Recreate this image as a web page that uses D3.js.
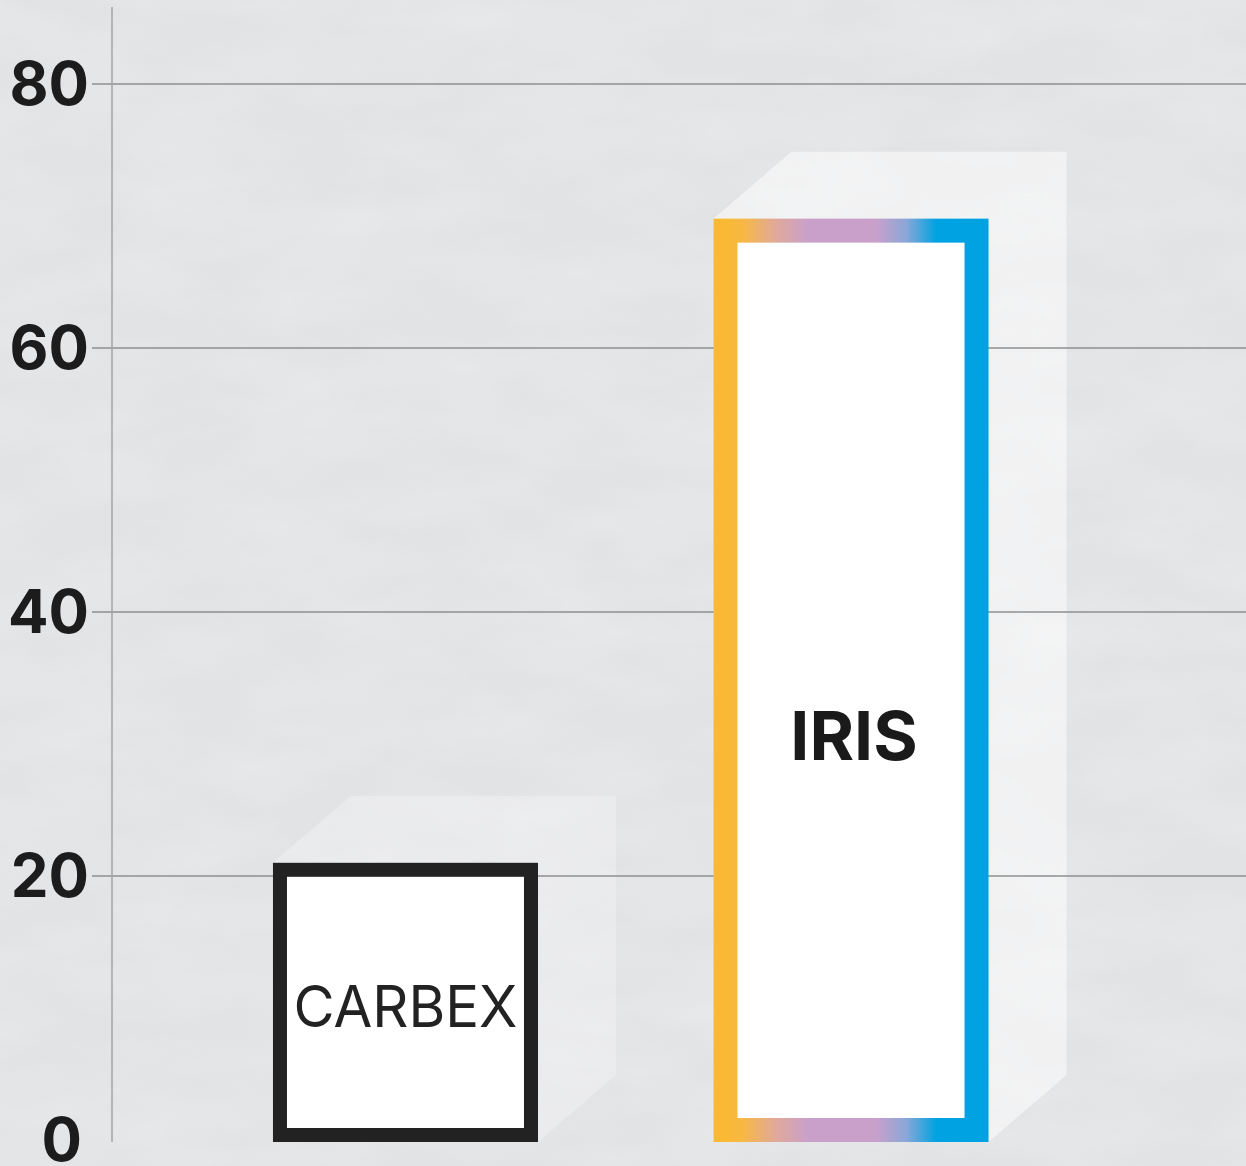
<!DOCTYPE html>
<html>
<head>
<meta charset="utf-8">
<script src="https://cdn.jsdelivr.net/npm/d3@7"></script>
<style>
  html, body { margin: 0; padding: 0; background: #e4e5e7; }
  svg { display: block; }
</style>
</head>
<body>
<svg id="chart"></svg>
<script>
// values
const categories = ['CARBEX', 'IRIS'];
const values = [21, 69.8];
const tickValues = [0, 20, 40, 60, 80];

const width = 1246;
const height = 1166;
const svg = d3.select('#chart').attr('width', width).attr('height', height);
const defs = svg.append('defs');

// soft paper background
const noise = defs.append('filter').attr('id', 'paper')
    .attr('x', 0).attr('y', 0).attr('width', '100%').attr('height', '100%');
noise.append('feTurbulence')
    .attr('type', 'fractalNoise').attr('baseFrequency', '0.008 0.02')
    .attr('numOctaves', 4).attr('seed', 7).attr('result', 'n');
noise.append('feColorMatrix').attr('in', 'n').attr('type', 'matrix')
    .attr('values', '0 0 0 0 1  0 0 0 0 1  0 0 0 0 1  0 0 0 -1.1 0.75');

svg.append('rect').attr('width', width).attr('height', height).attr('fill', '#e2e3e5');
svg.append('rect').attr('width', width).attr('height', height)
    .attr('filter', 'url(#paper)').attr('opacity', 0.3);

// iris gradient border
const grad = defs.append('linearGradient').attr('id', 'irisGrad')
    .attr('x1', '0%').attr('x2', '100%').attr('y1', 0).attr('y2', 0);
[
    [0, '#f9b934'], [0.07, '#f7b845'], [0.2, '#e0a99a'], [0.33, '#c9a0ca'],
    [0.6, '#c9a0ca'], [0.72, '#8aa7d8'], [0.84, '#00a2e1'], [1, '#00a2e1']
].forEach(function(s) {
    grad.append('stop').attr('offset', s[0]).attr('stop-color', s[1]);
});

const y = d3.scaleLinear().domain([0, 86]).range([1140, 1140 - 86 * 13.2]);
const x = d3.scaleBand().domain(categories)
    .range([112, 1144.5]).paddingInner(0.4366).paddingOuter(0.377);

const strokes = [14, 24];
const strokeColors = ['#222222', 'url(#irisGrad)'];
const shadowOpacity = [0.25, 0.5];
const dx = 78, dy = -67;

// extruded pale shadows
categories.forEach(function(c, i) {
    const sw = strokes[i];
    const x0 = x(c) - sw / 2, x1 = x(c) + x.bandwidth() + sw / 2;
    const yt = y(values[i]), yb = y(0) + 2;
    const pts = [[x0, yt], [x0 + dx, yt + dy], [x1 + dx, yt + dy],
        [x1 + dx, yb + dy], [x1, yb], [x0, yb]];
    svg.append('path')
        .attr('d', 'M' + pts.join('L') + 'Z')
        .attr('fill', '#ffffff').attr('opacity', shadowOpacity[i]);
});

// grid + axis
const grid = svg.append('g');
tickValues.filter(function(t) { return t > 0; }).forEach(function(t) {
    grid.append('line')
        .attr('x1', 92).attr('x2', width)
        .attr('y1', y(t)).attr('y2', y(t))
        .attr('stroke', '#8e8f90').attr('stroke-width', 1.5);
});
svg.append('line')
    .attr('x1', 112).attr('x2', 112).attr('y1', 7).attr('y2', 1142)
    .attr('stroke', '#a2a3a5').attr('stroke-width', 1.5);

svg.append('g').selectAll('text').data(tickValues).join('text')
    .attr('x', function(d) { return d === 0 ? 82 : 89; })
    .attr('y', function(d) { return y(d) + 21; })
    .attr('text-anchor', 'end')
    .attr('font-family', 'Inter, "Liberation Sans", sans-serif')
    .attr('font-weight', 700).attr('font-size', 60)
    .attr('fill', '#1c1c1c')
    .text(function(d) { return d; });

// bars
categories.forEach(function(c, i) {
    const sw = strokes[i];
    svg.append('rect')
        .attr('x', x(c))
        .attr('y', y(values[i]) + sw / 2)
        .attr('width', x.bandwidth())
        .attr('height', y(0) + 2 - y(values[i]) - sw)
        .attr('fill', '#ffffff')
        .attr('stroke', strokeColors[i])
        .attr('stroke-width', sw);
});

// labels
svg.append('text')
    .attr('x', x('CARBEX') + x.bandwidth() / 2).attr('y', 1027)
    .attr('text-anchor', 'middle')
    .attr('font-family', 'Inter, "Liberation Sans", sans-serif')
    .attr('font-weight', 400).attr('font-size', 58)
    .attr('textLength', 224).attr('lengthAdjust', 'spacingAndGlyphs')
    .attr('fill', '#222222')
    .text('CARBEX');

svg.append('text')
    .attr('x', x('IRIS') + x.bandwidth() / 2 + 3).attr('y', 760)
    .attr('text-anchor', 'middle')
    .attr('font-family', 'Inter, "Liberation Sans", sans-serif')
    .attr('font-weight', 700).attr('font-size', 68)
    .attr('fill', '#1a1a1a')
    .text('IRIS');
</script>
</body>
</html>
